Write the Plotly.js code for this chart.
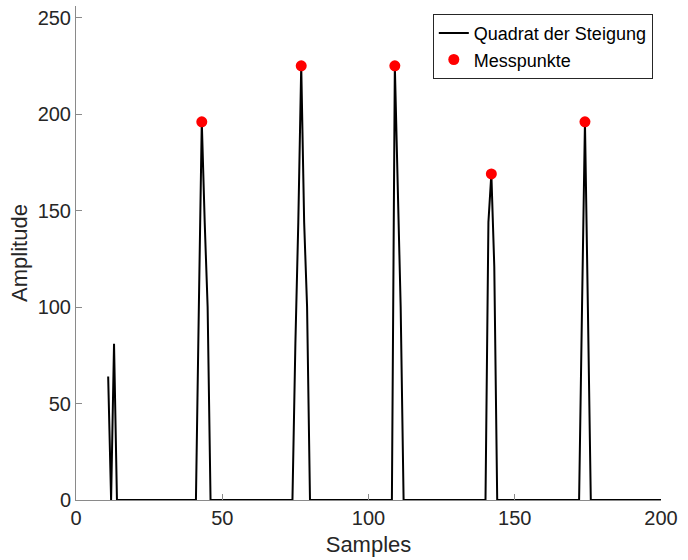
<!DOCTYPE html>
<html>
<head>
<meta charset="utf-8">
<script src="https://cdn.plot.ly/plotly-3.0.1.min.js"></script>
<style>html,body{margin:0;padding:0;background:#fff;}#chart{width:688px;height:560px;}</style>
</head>
<body>
<div id="chart"></div>
<script>
// Squared slope, samples 11..200
var startSample = 11;
var squaredSlope = [
  64,0,81,0,0,0,0,0,0,0,          // 11-20
  0,0,0,0,0,0,0,0,0,0,            // 21-30
  0,0,0,0,0,0,0,0,0,0,            // 31-40
  0,100,196,144,100,0,0,0,0,0,    // 41-50
  0,0,0,0,0,0,0,0,0,0,            // 51-60
  0,0,0,0,0,0,0,0,0,0,            // 61-70
  0,0,0,0,81,144,225,144,100,0,   // 71-80
  0,0,0,0,0,0,0,0,0,0,            // 81-90
  0,0,0,0,0,0,0,0,0,0,            // 91-100
  0,0,0,0,0,0,0,0,225,169,        // 101-110
  100,0,0,0,0,0,0,0,0,0,          // 111-120
  0,0,0,0,0,0,0,0,0,0,            // 121-130
  0,0,0,0,0,0,0,0,0,0,            // 131-140
  144,169,121,0,0,0,0,0,0,0,      // 141-150
  0,0,0,0,0,0,0,0,0,0,            // 151-160
  0,0,0,0,0,0,0,0,0,0,            // 161-170
  0,0,100,196,100,0,0,0,0,0,      // 171-180
  0,0,0,0,0,0,0,0,0,0,            // 181-190
  0,0,0,0,0,0,0,0,0,0             // 191-200
];
var sampleIdx = squaredSlope.map(function(_, i){ return startSample + i; });

var peakSamples = [43, 77, 109, 142, 174];
var peakValues  = [196, 225, 225, 169, 196];

var xTicks = [0, 50, 100, 150, 200];
var yTicks = [0, 50, 100, 150, 200, 250];

var font = 'Liberation Sans, Arial, Helvetica, sans-serif';
var axisCol = '#8a8a8a';
var textCol = '#262626';

var traces = [
  {x: sampleIdx, y: squaredSlope, type: 'scatter', mode: 'lines',
   name: 'Quadrat der Steigung', line: {color: '#000000', width: 2}},
  {x: peakSamples, y: peakValues, type: 'scatter', mode: 'markers',
   name: 'Messpunkte', marker: {color: '#ff0000', size: 11}}
];

var layout = {
  width: 688, height: 560,
  margin: {l: 76, r: 27, t: 6, b: 60},
  paper_bgcolor: '#ffffff', plot_bgcolor: '#ffffff',
  font: {family: font, color: textCol},
  showlegend: true,
  legend: {x: 0.986, xanchor: 'right', y: 0.984, yanchor: 'top',
           bgcolor: '#ffffff', bordercolor: '#262626', borderwidth: 1,
           font: {size: 18, color: '#000000', family: font},
           tracegroupgap: 0, itemwidth: 30},
  xaxis: {range: [0, 200], tickvals: xTicks, ticktext: xTicks.map(String),
          ticks: 'inside', ticklen: 6, tickcolor: axisCol, tickwidth: 1,
          showline: true, linecolor: axisCol, linewidth: 1, mirror: false,
          showgrid: false, zeroline: false,
          tickfont: {size: 20, color: textCol, family: font},
          title: {text: 'Samples', font: {size: 22, color: textCol, family: font}, standoff: 8}},
  yaxis: {range: [0, 256], tickvals: yTicks, ticktext: yTicks.map(String),
          ticks: 'inside', ticklen: 6, tickcolor: axisCol, tickwidth: 1,
          showline: true, linecolor: axisCol, linewidth: 1, mirror: false,
          showgrid: false, zeroline: false,
          tickfont: {size: 20, color: textCol, family: font},
          title: {text: 'Amplitude', font: {size: 22, color: textCol, family: font}, standoff: 3}}
};

Plotly.newPlot('chart', traces, layout, {displayModeBar: false, staticPlot: true});
</script>
</body>
</html>
